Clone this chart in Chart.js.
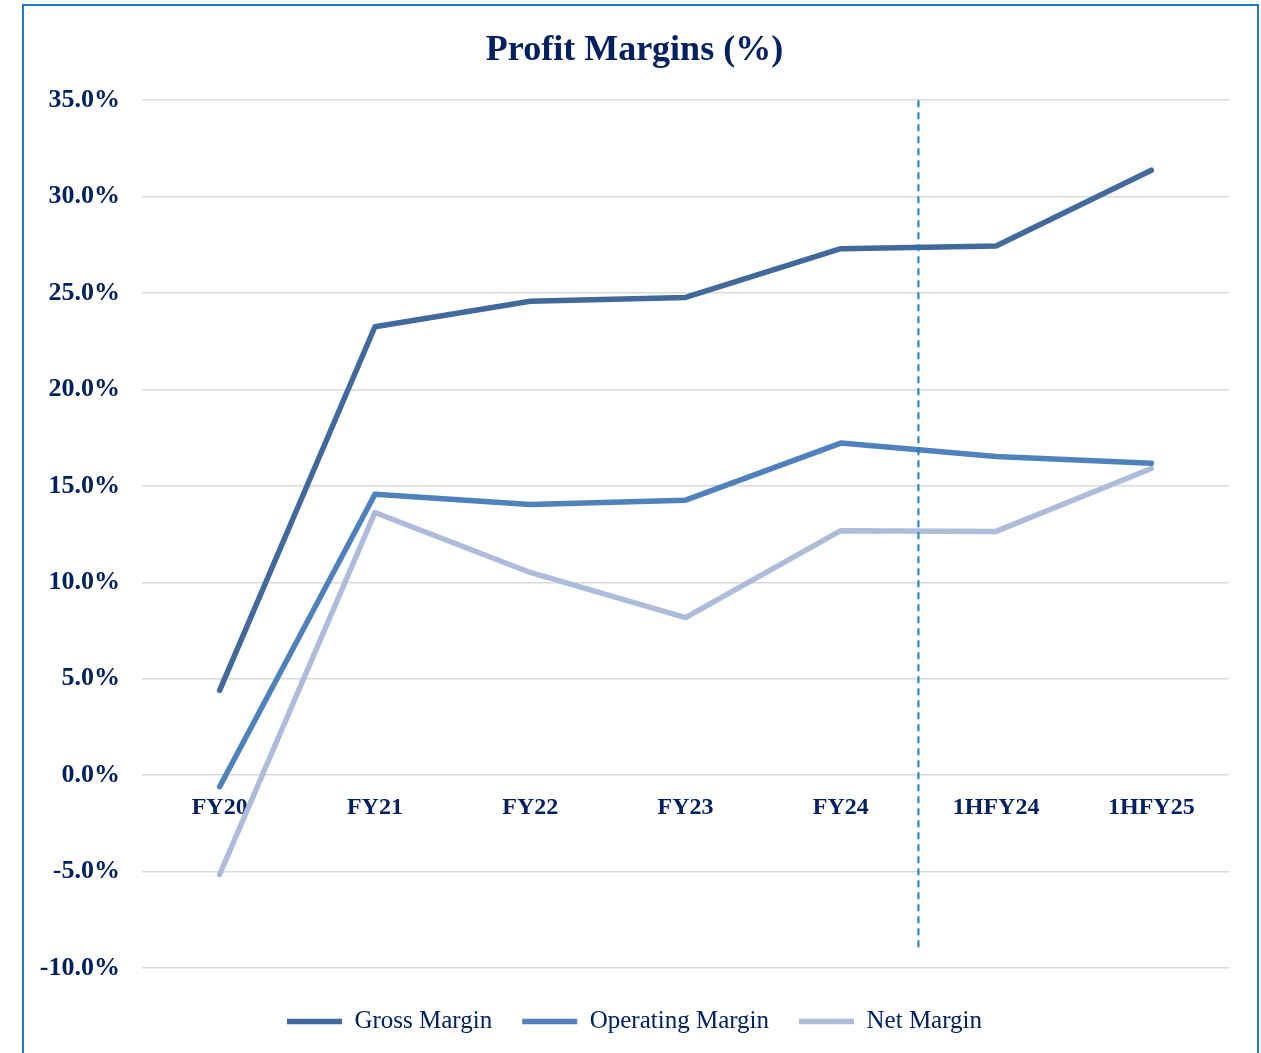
<!DOCTYPE html>
<html lang="en">
<head>
<meta charset="UTF-8">
<title>Profit Margins (%)</title>
<script src="https://cdn.jsdelivr.net/npm/chart.js"></script>
<style>
  * { box-sizing: border-box; margin: 0; padding: 0; }
  body { background: white; width: 1261px; height: 1053px; overflow: hidden; position: relative; }
  .marco { position: absolute; left: 22px; top: 4px; width: 1237px; height: 1100px; border: 2px solid #1f7ac6; }
  .caja { position: absolute; left: 0; top: 0; width: 1261px; height: 1044px; }
</style>
</head>
<body>
<div class="marco"></div>
<div class="caja"><canvas id="grafica"></canvas></div>

<script>
const periodos = ['FY20', 'FY21', 'FY22', 'FY23', 'FY24', '1HFY24', '1HFY25'];
const margenBruto = [4.4, 23.25, 24.57, 24.77, 27.3, 27.44, 31.37];
const margenOperativo = [-0.6, 14.57, 14.03, 14.26, 17.22, 16.52, 16.18];
const margenNeto = [-5.15, 13.62, 10.51, 8.17, 12.68, 12.64, 15.9];
const ejeMin = -10, ejeMax = 35, ejePaso = 5;
// separador entre años completos y semestres
const separadorEn = 4.5, separadorDesde = 35, separadorHasta = -9;

const azulTexto = '#002060';

const separador = {
  id: 'separador',
  afterDatasetsDraw(chart) {
    const x = chart.scales.x.getPixelForValue(separadorEn);
    const y1 = chart.scales.y.getPixelForValue(separadorDesde);
    const y2 = chart.scales.y.getPixelForValue(separadorHasta);
    const ctx = chart.ctx;
    ctx.save();
    ctx.strokeStyle = '#1a7acb';
    ctx.lineWidth = 2;
    ctx.setLineDash([7, 5]);
    ctx.beginPath();
    ctx.moveTo(x, y1);
    ctx.lineTo(x, y2);
    ctx.stroke();
    ctx.restore();
  }
};

function serie(label, data, color) {
  return {
    label: label,
    data: data,
    borderColor: color,
    backgroundColor: color,
    borderWidth: 5.5,
    borderCapStyle: 'round',
    borderJoinStyle: 'round',
    pointRadius: 0,
    tension: 0,
    fill: false
  };
}

const ctx = document.getElementById('grafica').getContext('2d');
new Chart(ctx, {
  type: 'line',
  data: {
    labels: periodos,
    datasets: [
      serie('Gross Margin', margenBruto, '#41699c'),
      serie('Operating Margin', margenOperativo, '#4f81bd'),
      serie('Net Margin', margenNeto, '#adbcd9')
    ]
  },
  plugins: [separador],
  options: {
    responsive: true,
    maintainAspectRatio: false,
    animation: false,
    layout: { padding: { left: 40, right: 32, top: 0, bottom: 0 } },
    scales: {
      x: {
        offset: true,
        position: { y: 0 },
        z: 1,
        grid: { display: false, drawTicks: false },
        border: { display: false },
        ticks: {
          color: azulTexto,
          padding: 18,
          font: { family: '"Liberation Serif", serif', size: 24, weight: 'bold' },
          showLabelBackdrop: true,
          backdropColor: 'white',
          backdropPadding: 2
        }
      },
      y: {
        min: ejeMin,
        max: ejeMax,
        afterFit: s => { s.width = 102; },
        grid: { color: '#d9d9d9', lineWidth: 1.6, drawTicks: false },
        border: { display: false },
        ticks: {
          stepSize: ejePaso,
          color: azulTexto,
          padding: 22,
          font: { family: '"Liberation Serif", serif', size: 26, weight: 'bold' },
          callback: v => v.toFixed(1) + '%'
        }
      }
    },
    plugins: {
      title: {
        display: true,
        text: 'Profit Margins (%)',
        color: azulTexto,
        font: { family: '"Liberation Serif", serif', size: 36, weight: 'bold', lineHeight: 1.2 },
        padding: { top: 29, bottom: 28 }
      },
      legend: {
        position: 'bottom',
        title: { display: true, text: '', padding: 0, font: { size: 11, lineHeight: 1 } },
        labels: {
          color: azulTexto,
          usePointStyle: true,
          pointStyle: 'line',
          pointStyleWidth: 55,
          padding: 30,
          font: { family: '"Liberation Serif", serif', size: 25 }
        }
      },
      tooltip: { enabled: false }
    }
  }
});
</script>
</body>
</html>
